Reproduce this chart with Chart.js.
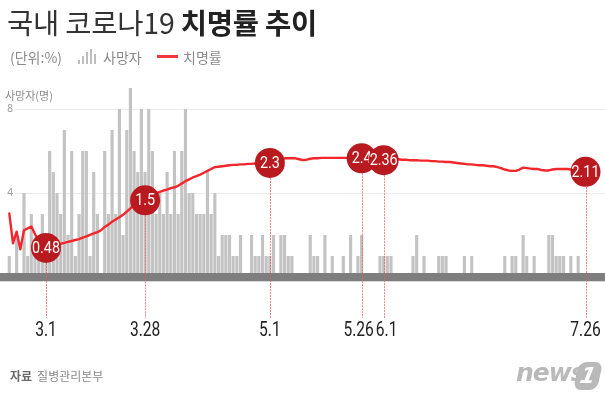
<!DOCTYPE html>
<html><head><meta charset="utf-8">
<script src="https://cdn.jsdelivr.net/npm/chart.js@4.4.1/dist/chart.umd.min.js"></script>
<style>
html,body{margin:0;padding:0;background:#fff;width:605px;height:394px;overflow:hidden;}
#wrap{position:relative;width:605px;height:394px;font-family:"Noto Sans CJK KR","Noto Sans",sans-serif;}
#c{position:absolute;left:0;top:0;}
#title{position:absolute;left:7px;top:2px;font-size:28.5px;line-height:40px;color:#333;white-space:nowrap;letter-spacing:-0.2px;}
#title b{font-weight:700;color:#222;}
#legend{position:absolute;left:10px;top:46px;height:22px;font-size:14px;line-height:22px;color:#8a8a8a;white-space:nowrap;}
#legend span{position:absolute;top:0;}
.bi{position:absolute;bottom:4px;width:2px;background:#bdbdbd;}
#redline{position:absolute;left:147px;top:9px;width:21px;height:3px;background:#f2383c;}
#foot{position:absolute;left:10px;top:366px;font-size:12px;line-height:20px;color:#8a8a8a;white-space:nowrap;}
#foot b{color:#6a6a6a;font-weight:700;margin-right:5px;}
#logo{position:absolute;left:516px;top:360px;width:88px;height:32px;}
#logo .n{position:absolute;left:0;top:-2px;font-family:"DejaVu Sans","Noto Sans",sans-serif;font-style:italic;font-weight:700;font-size:25px;color:#b9b9b9;letter-spacing:-1px;}
#logo .one{position:absolute;left:60px;top:2px;width:24px;height:28px;background:#b9b9b9;border-radius:8px;transform:skewX(-12deg);color:#fff;font-family:"DejaVu Sans",sans-serif;font-weight:700;font-style:italic;font-size:22px;line-height:28px;text-align:center;}
</style></head>
<body><div id="wrap">
<canvas id="c" width="605" height="394"></canvas>
<div id="title">국내 코로나19 <b>치명률 추이</b></div>
<div id="legend">
  <span style="left:0">(단위:%)</span>
  <div class="bi" style="left:68px;height:4px"></div>
  <div class="bi" style="left:72px;height:8px"></div>
  <div class="bi" style="left:76px;height:12px"></div>
  <div class="bi" style="left:80px;height:15px"></div>
  <div class="bi" style="left:84px;height:10px"></div>
  <span style="left:93px">사망자</span>
  <div id="redline"></div>
  <span style="left:173px">치명률</span>
</div>
<div id="foot"><b>자료</b>질병관리본부</div>
<div id="logo"><span class="n">news</span><span class="one">1</span></div>
</div>
<script>
// categories: daily dates from 2.20 to 7.26 (2020)
const startMonth = 2, startDay = 20, dayCount = 158;
const monthLengths = {2:29,3:31,4:30,5:31,6:30,7:31};
const dates = [];
(function(){ let m = startMonth, d = startDay;
  for (let i = 0; i < dayCount; i++) { dates.push(m + '.' + d); d++; if (d > monthLengths[m]) { d = 1; m++; } }
})();

// daily deaths (명)
const deaths = [
  1,0,2,0,4,1,3,1,1,3,1,
  6,5,4,3,7,2,6,1,3,6, 6,1,5,3,0,6,3,7,3,8, 2,7,9,6,5,8,5,
  8,6,3,4,3,5,3,6,3,6, 8,4,4,3,3,3,5,3,4,1, 2,2,2,1,1,2,0,0,2,1, 1,2,1,1,
  2,0,2,2,1,1,0,0,0,0, 2,1,1,0,2,0,1,0,0,1, 0,2,0,1,2,
  0,0,0,0,1,1,1,1,0,0, 0,0,0,1,2,0,1,0,0,0, 1,1,1,0,0,0,0,1,0,1,
  0,0,0,0,0,0,0,0,1,0, 1,1,0,2,1,0,1,0,0,0, 2,2,1,1,1,0,1,0,1,0, 0
];

// fatality rate (%)
const fatalityRate = [
  1.22,0.58,0.83,0.45,0.86,0.90,0.94,0.78,0.62,0.52,0.48,
  0.50,0.52,0.55,0.57,0.59,0.61,0.63,0.65,0.67,0.70,0.73,0.76,0.79,0.82,0.86,
  0.93,0.98,1.04,1.09,1.14,1.19,1.26,1.33,1.39,1.44,1.49,1.53,
  1.57,1.61,1.65,1.68,1.71,1.73,1.76,1.78,1.81,1.86,1.91,1.95,1.99,2.02,2.05,2.09,2.13,2.17,2.21,
  2.22,2.23,2.24,2.25,2.26,2.26,2.27,2.27,2.28,2.28,2.29,2.29,2.29,2.30,2.30,
  2.32,2.35,2.38,2.40,2.40,2.40,2.40,2.38,2.36,2.37,2.39,2.40,2.40,
  2.41,2.41,2.41,2.41,2.41,2.41,2.41,2.41,2.41,2.41,2.41,2.40,
  2.40,2.39,2.38,2.37,2.37,2.36,
  2.37,2.38,2.38,2.38,2.37,2.37,2.36,2.36,2.36,2.35,2.35,2.35,2.34,2.34,2.33,2.33,2.32,2.32,
  2.31,2.30,2.29,2.28,2.27,2.27,2.26,2.25,2.25,2.24,2.23,2.23,2.21,2.19,2.16,2.14,2.13,2.13,
  2.16,2.20,2.19,2.18,2.17,2.17,2.15,2.14,2.14,2.16,2.17,2.17,2.17,2.17,2.16,2.16,2.16,2.15,2.13
];

// highlighted points
const markerDates  = ['3.1','3.28','5.1','5.26','6.1','7.26'];
const markerValues = [0.48, 1.5, 2.3, 2.4, 2.36, 2.11];
const markerLabels = ['0.48','1.5','2.3','2.4','2.36','2.11'];
const deathTicks = [4, 8];

function narrowText(ctx, text, x, y, sx) {
  ctx.save();
  ctx.translate(x, y);
  ctx.scale(sx, 1);
  ctx.fillText(text, 0, 0);
  ctx.restore();
}

const decor = {
  id: 'decor',
  beforeDatasetsDraw(chart) {
    const ctx = chart.ctx, y = chart.scales.y;
    ctx.save();
    deathTicks.forEach(v => {
      const py = Math.round(y.getPixelForValue(v)) + 0.5;
      ctx.strokeStyle = '#ececec'; ctx.lineWidth = 1;
      ctx.beginPath(); ctx.moveTo(15, py); ctx.lineTo(chart.width, py); ctx.stroke();
      ctx.fillStyle = '#9a9a9a'; ctx.font = '10px "Noto Sans", sans-serif';
      ctx.textAlign = 'center'; ctx.textBaseline = 'middle';
      ctx.fillText(String(v), 10, py);
    });
    ctx.fillStyle = '#8a8a8a'; ctx.font = '11px "Noto Sans CJK KR", sans-serif';
    ctx.textAlign = 'left'; ctx.textBaseline = 'middle';
    ctx.fillText('사망자(명)', 5, 96);
    ctx.restore();
  },
  afterDatasetDraw(chart, args) {
    if (args.index !== 0) return;
    const ctx = chart.ctx, y0 = chart.scales.y.getPixelForValue(0);
    ctx.save();
    ctx.fillStyle = '#7e7e7e';
    ctx.fillRect(0, y0 - 4.3, chart.width, 8.3);
    ctx.restore();
  },
  afterDraw(chart) {
    const ctx = chart.ctx, xs = chart.scales.x, y1 = chart.scales.y1;
    const sx = 0.8;
    ctx.save();
    const pts = markerDates.map((d, i) => ({
      px: xs.getPixelForValue(dates.indexOf(d)),
      py: y1.getPixelForValue(markerValues[i])
    }));
    pts.forEach(p => {
      ctx.strokeStyle = 'rgba(236,90,90,0.75)'; ctx.lineWidth = 1;
      ctx.setLineDash([2, 1]);
      ctx.beginPath(); ctx.moveTo(Math.round(p.px) + 0.5, p.py); ctx.lineTo(Math.round(p.px) + 0.5, 318); ctx.stroke();
      ctx.setLineDash([]);
    });
    pts.forEach((p, i) => {
      ctx.fillStyle = '#b81a1f';
      ctx.beginPath(); ctx.arc(p.px, p.py, 15, 0, Math.PI * 2); ctx.fill();
      ctx.textAlign = 'center'; ctx.textBaseline = 'middle';
      ctx.fillStyle = '#ffffff';
      ctx.font = '16.5px Roboto, sans-serif';
      narrowText(ctx, markerLabels[i], p.px, p.py + 1, 0.87);
    });
    // date labels, pushed apart when neighbours collide
    ctx.font = '19.5px Roboto, sans-serif';
    const lab = pts.map((p, i) => ({ cx: p.px, w: ctx.measureText(markerDates[i]).width * sx }));
    for (let i = 1; i < lab.length; i++) {
      const a = lab[i - 1], b = lab[i];
      const overlap = (a.cx + a.w / 2 + 2) - (b.cx - b.w / 2);
      if (overlap > 0) { a.cx -= overlap / 2; b.cx += overlap / 2; }
    }
    ctx.fillStyle = '#222222';
    ctx.textAlign = 'center'; ctx.textBaseline = 'middle';
    lab.forEach((l, i) => narrowText(ctx, markerDates[i], l.cx, 331, sx));
    ctx.restore();
  }
};

new Chart(document.getElementById('c'), {
  type: 'bar',
  data: {
    labels: dates,
    datasets: [
      { type: 'bar', data: deaths, yAxisID: 'y', backgroundColor: '#c3c3c3', barThickness: 2.5, order: 2, clip: false },
      { type: 'line', data: fatalityRate, yAxisID: 'y1', borderColor: '#f2262b', borderWidth: 2.4,
        pointRadius: 0, tension: 0, order: 1, clip: false, borderJoinStyle: 'round', borderCapStyle: 'round' }
    ]
  },
  options: {
    responsive: false, animation: false, devicePixelRatio: 1,
    layout: { padding: { left: 9.3, right: 19.5, top: 77.8, bottom: 116.7 } },
    plugins: { legend: { display: false }, tooltip: { enabled: false } },
    scales: {
      x: { type: 'category', offset: false, display: false, grid: { display: false } },
      y: { min: 0, max: 9.5, display: false },
      y1: { min: -0.148, max: 4.124, display: false }
    }
  },
  plugins: [decor]
});
</script>
</body></html>
